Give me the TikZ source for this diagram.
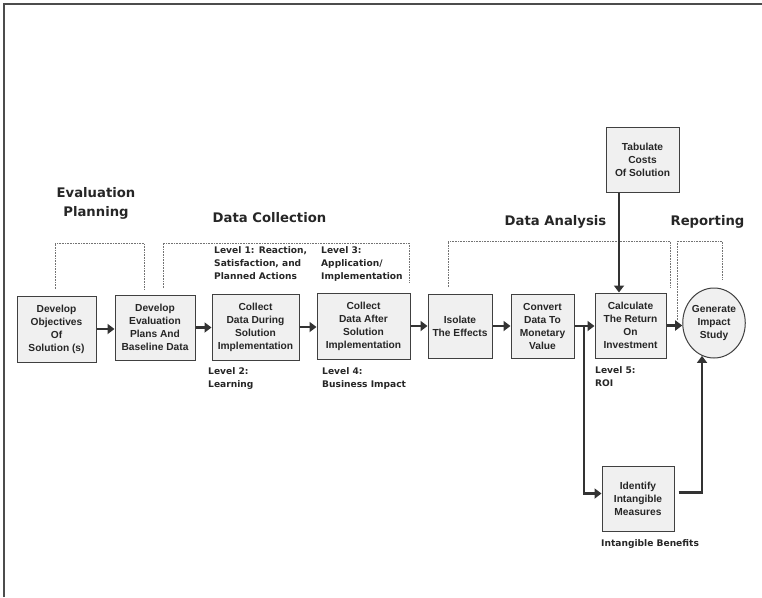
\documentclass[tikz,border=0pt]{standalone}
\usepackage{fontspec}
\setmainfont{Liberation Sans}
\newfontfamily\headfont{DejaVu Sans}
\usetikzlibrary{arrows.meta,shapes.geometric,positioning}

\tikzset{
  stage/.style={draw=black!75, line width=1pt, fill=black!6, align=center,
    font=\bfseries\fontsize{10.2}{13}\selectfont, text=black!85, inner sep=1pt},
  flow/.style={-{Triangle[length=7pt,width=10pt]}, line width=2.6pt, draw=black!80},
  phase/.style={font=\headfont\bfseries\fontsize{13.2}{19}\selectfont, text=black!85, align=center},
  level/.style={font=\headfont\bfseries\fontsize{9.1}{13}\selectfont, text=black!85,
    align=left, anchor=north west, inner sep=0pt},
  bracket/.style={densely dotted, line width=0.6pt, draw=black!55},
}

\begin{document}
\begin{tikzpicture}[x=1pt,y=-1pt]
  \useasboundingbox (0,0) rectangle (762,597);
  \draw[line width=1.2pt, black!70] (4,597) -- (4,4) -- (762,4);

  % main chain of stages
  \node[stage, minimum width=79pt, minimum height=66pt] (obj) at (56.5,329) {Develop\\Objectives\\Of\\Solution (s)};
  \node[stage, minimum width=80pt, minimum height=65pt] (plan) at (155,327.5) {Develop\\Evaluation\\Plans And\\Baseline Data};
  \node[stage, minimum width=87pt, minimum height=66pt] (during) at (255.5,327) {Collect\\Data During\\Solution\\Implementation};
  \node[stage, minimum width=93pt, minimum height=66pt] (after) at (363.5,326) {Collect\\Data After\\Solution\\Implementation};
  \node[stage, minimum width=64pt, minimum height=64pt] (isolate) at (460,326) {Isolate\\The Effects};
  \node[stage, minimum width=63pt, minimum height=64pt] (convert) at (542.5,326) {Convert\\Data To\\Monetary\\Value};
  \node[stage, minimum width=71pt, minimum height=65pt] (roi) at (630.5,325.5) {Calculate\\The Return\\On\\Investment};
  \node[stage, ellipse, minimum width=62pt, minimum height=70pt, inner sep=0pt] (impact) at (714,323) {Generate\\Impact\\Study};
  \node[stage, minimum width=73pt, minimum height=65pt] (costs) at (642.5,159.5) {Tabulate\\Costs\\Of Solution};
  \node[stage, minimum width=72pt, minimum height=65pt] (intang) at (638,498.5) {Identify\\Intangible\\Measures};

  % phase headings
  \node[phase] (hplan) at (96,203) {Evaluation\\Planning};
  \node[phase] (hcoll) at (269.5,218) {Data Collection};
  \node[phase] (hanal) at (555.5,222) {Data Analysis};
  \node[phase] (hrep) at (707.5,222) {Reporting};

  % levels
  \node[level] (lvlone) at (214,246) {Level 1: Reaction,\\Satisfaction, and\\Planned Actions};
  \node[level] (lvlthree) at (321,246) {Level 3:\\Application/\\Implementation};
  \node[level] (lvltwo) at (208,367) {Level 2:\\Learning};
  \node[level] (lvlfour) at (322,367) {Level 4:\\Business Impact};
  \node[level] (lvlfive) at (595,366) {Level 5:\\ROI};
  \node[level] (intben) at (601,539) {Intangible Benefits};

  % dotted brackets
  \draw[bracket] (55,289) -- (55,243) -- (144,243) -- (144,289);
  \draw[bracket] (163,288) -- (163,243) -- (409,243) -- (409,283);
  \draw[bracket] (448,287) -- (448,241) -- (670,241) -- (670,287);
  \draw[bracket] (677,320) -- (677,241) -- (722,241) -- (722,280);

  % flow
  \draw[flow] (obj.east) -- (obj.east -| plan.west);
  \draw[flow] (plan.east) -- (plan.east -| during.west);
  \draw[flow] (during.east) -- (during.east -| after.west);
  \draw[flow] (after.east) -- (after.east -| isolate.west);
  \draw[flow] (isolate.east) -- (isolate.east -| convert.west);
  \draw[flow] (convert.east) -- (convert.east -| roi.west);
  \draw[flow] (roi.east) -- (roi.east -| impact.west);
  \draw[flow] ([xshift=-23.5pt]costs.south) -- ([xshift=-23.5pt]costs.south |- roi.north);

  \coordinate (split) at (584,326);
  \draw[flow] (split) |- ([yshift=5pt]intang.west);
  \draw[flow] ([xshift=4pt,yshift=6pt]intang.east) -| (impact.250);
\end{tikzpicture}
\end{document}
